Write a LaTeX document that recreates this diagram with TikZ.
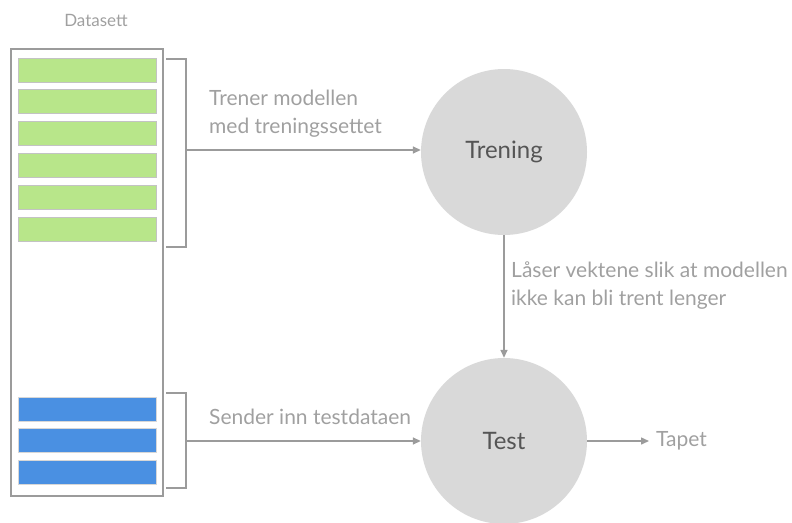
\documentclass[tikz,border=0pt]{standalone}
\usepackage{fontspec}
\setmainfont{Lato}
\usetikzlibrary{arrows.meta,positioning,calc}
\definecolor{linegray}{HTML}{9B9B9B}
\definecolor{textgray}{HTML}{A0A0A0}
\definecolor{trainfill}{HTML}{B8E68A}
\definecolor{testfill}{HTML}{4A90E2}
\definecolor{circlefill}{HTML}{D9D9D9}
\definecolor{circletext}{HTML}{555555}

\begin{document}
\begin{tikzpicture}[x=1pt, y=-1pt,
  bar/.style={rectangle, draw=linegray!60, line width=0.8pt, minimum width=138pt, minimum height=24pt, inner sep=0pt},
  stage/.style={circle, fill=circlefill, minimum size=166pt, inner sep=0pt, font=\fontsize{24}{28}\selectfont, text=circletext},
  note/.style={font=\fontsize{21}{28}\selectfont, text=textgray, align=left, inner sep=0pt},
  bracket/.style={draw=linegray, line width=1.5pt},
  flow/.style={draw=linegray, line width=1.5pt, -{Triangle[length=8pt,width=7pt]}}
]
  \useasboundingbox (0,0) rectangle (792,522);

  % dataset column with training and test rows
  \node[note, font=\fontsize{17}{20}\selectfont] (title) at (96,20) {Datasett};
  \node[draw=linegray, line width=1.5pt, minimum width=152pt, minimum height=447pt, inner sep=0pt] (dataset) at (87,272.5) {};
  \foreach \i in {0,...,5}
    \node[bar, fill=trainfill] (train\i) at (87,70+31.8*\i) {};
  \foreach \i in {0,1,2}
    \node[bar, fill=testfill, draw=linegray!40] (test\i) at (87,409+31.7*\i) {};

  % brackets grouping the rows
  \draw[bracket] (166,59) -- (186,59) -- (186,247) -- (166,247);
  \draw[bracket] (166,393) -- (186,393) -- (186,488) -- (166,488);
  \coordinate (trainbrace) at (186,150);
  \coordinate (testbrace) at (186,441);

  % stages
  \node[stage] (trening) at (504,152) {Trening};
  \node[stage] (test) at (504,441) {Test};
  \node[note, anchor=west, inner sep=7pt] (tapet) at (649,441) {Tapet};

  \draw[flow] (trainbrace) -- (trainbrace -| trening.west);
  \draw[flow] (testbrace) -- (test);
  \draw[flow] (trening) -- (test);
  \draw[flow] (test) -- (tapet);

  \node[note, anchor=west] (trainnote) at (209,114) {Trener modellen\\med treningssettet};
  \node[note, anchor=west] (locknote) at (511,286) {Låser vektene slik at modellen\\ikke kan bli trent lenger};
  \node[note, anchor=west] (testnote) at (209,417) {Sender inn testdataen};
\end{tikzpicture}
\end{document}
